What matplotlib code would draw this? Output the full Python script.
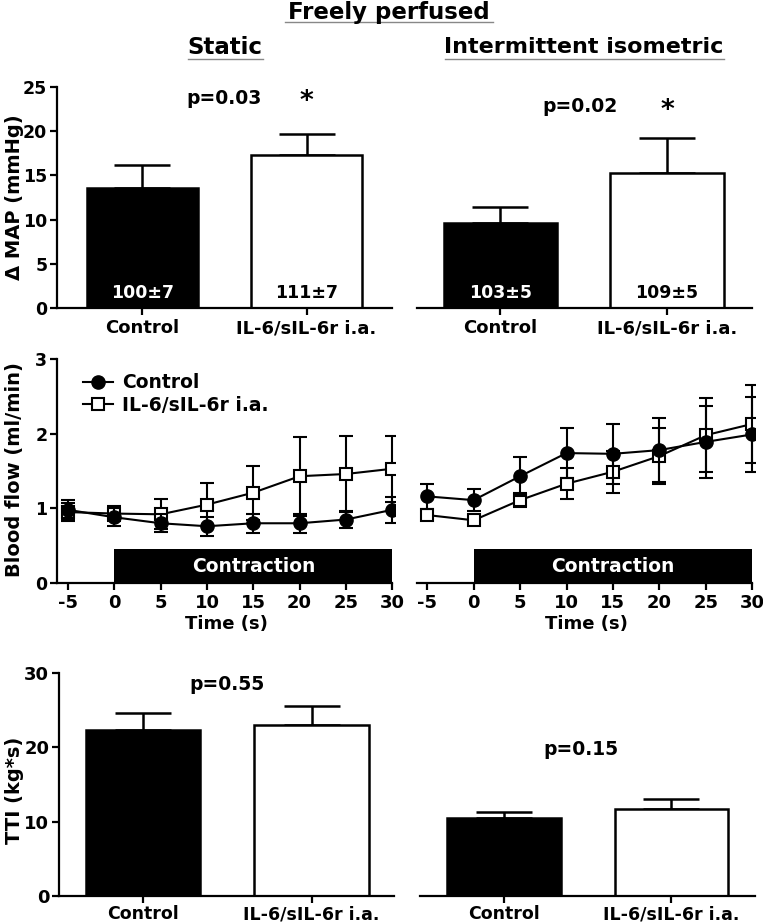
import matplotlib
matplotlib.use("Agg")
import matplotlib.pyplot as plt
from matplotlib.lines import Line2D
import numpy as np

plt.rcParams['font.family'] = ['DejaVu Sans']
plt.rcParams['font.weight'] = 'bold'
plt.rcParams['axes.linewidth'] = 1.6

# ---------------- data ----------------
groups = ["Control", "IL-6/sIL-6r i.a."]

map_static = [13.6, 17.3]
map_static_err = [2.6, 2.4]
map_interm = [9.6, 15.3]
map_interm_err = [1.8, 3.9]
map_static_labels = ["100\u00b17", "111\u00b17"]
map_interm_labels = ["103\u00b15", "109\u00b15"]

time_s = [-5, 0, 5, 10, 15, 20, 25, 30]
flow_static_ctrl = [0.98, 0.88, 0.80, 0.76, 0.80, 0.80, 0.85, 0.98]
flow_static_ctrl_err = [0.13, 0.12, 0.12, 0.13, 0.13, 0.13, 0.12, 0.17]
flow_static_il = [0.95, 0.93, 0.92, 1.05, 1.21, 1.43, 1.46, 1.53]
flow_static_il_err = [0.12, 0.10, 0.20, 0.29, 0.36, 0.53, 0.51, 0.44]
flow_interm_ctrl = [1.16, 1.11, 1.43, 1.74, 1.73, 1.78, 1.89, 1.99]
flow_interm_ctrl_err = [0.17, 0.15, 0.26, 0.33, 0.40, 0.43, 0.48, 0.50]
flow_interm_il = [0.91, 0.84, 1.11, 1.33, 1.49, 1.70, 1.98, 2.13]
flow_interm_il_err = [0.06, 0.06, 0.09, 0.21, 0.28, 0.38, 0.50, 0.52]

tti_static = [22.3, 23.0]
tti_static_err = [2.3, 2.6]
tti_interm = [10.5, 11.7]
tti_interm_err = [0.8, 1.3]

W, H = 763, 924
fig = plt.figure(figsize=(W / 100, H / 100), dpi=100)

TICK_FS = 13
YTICK_FS = 12.5


def ax_px(x0, x1, ytop, ybot):
    return fig.add_axes([x0 / W, 1 - ybot / H, (x1 - x0) / W, (ybot - ytop) / H])


def bar_panel(ax, vals, errs, xlim, ylim, yticks, show_y, xfs=TICK_FS, yfs=YTICK_FS, xpad=3):
    x = np.arange(len(vals))
    colors = ['black', 'white']
    ax.bar(x, vals, width=0.68, color=colors, edgecolor='black', linewidth=1.8, zorder=2)
    ax.errorbar(x, vals, yerr=[[0] * len(vals), errs], fmt='none', ecolor='black',
                elinewidth=1.8, capsize=20, capthick=1.8, zorder=1)
    ax.set_xlim(*xlim)
    ax.set_ylim(*ylim)
    ax.set_xticks(x)
    ax.set_xticklabels(groups, fontsize=xfs, fontweight='bold')
    ax.spines['top'].set_visible(False)
    ax.spines['right'].set_visible(False)
    ax.tick_params(axis='x', direction='out', length=5, width=1.6, pad=xpad)
    if show_y:
        ax.set_yticks(yticks)
        ax.set_yticklabels([str(t) for t in yticks], fontsize=yfs, fontweight='bold')
        ax.tick_params(axis='y', direction='out', length=5, width=1.6, pad=2)
    else:
        ax.spines['left'].set_visible(False)
        ax.set_yticks([])


def flow_panel(ax, ctrl, ctrl_err, il, il_err, xlim, show_y):
    ax.errorbar(time_s, il, yerr=il_err, fmt='-s', color='black', mfc='white', mec='black',
                ms=9, mew=1.5, lw=1.5, elinewidth=1.5, capsize=5, capthick=1.5, zorder=3)
    ax.errorbar(time_s, ctrl, yerr=ctrl_err, fmt='-o', color='black', mfc='black', mec='black',
                ms=9.5, lw=1.5, elinewidth=1.5, capsize=5, capthick=1.5, zorder=4)
    ax.bar(15, 0.45, width=30, bottom=0, color='black', zorder=2)
    ax.text(15, 0.22, "Contraction", color='white', ha='center', va='center',
            fontsize=13.5, fontweight='bold', zorder=5)
    ax.set_xlim(*xlim)
    ax.set_ylim(0, 3)
    ax.set_xticks(time_s)
    ax.set_xticklabels([str(t) for t in time_s], fontsize=TICK_FS, fontweight='bold')
    ax.set_xlabel("Time (s)", fontsize=13, fontweight='bold', labelpad=2)
    ax.spines['top'].set_visible(False)
    ax.spines['right'].set_visible(False)
    ax.spines['bottom'].set_bounds(xlim[0], 30)
    ax.tick_params(axis='x', direction='out', length=5, width=1.6, pad=3)
    if show_y:
        ax.set_yticks([0, 1, 2, 3])
        ax.set_yticklabels(['0', '1', '2', '3'], fontsize=YTICK_FS, fontweight='bold')
        ax.tick_params(axis='y', direction='out', length=5, width=1.6, pad=2)
    else:
        ax.spines['left'].set_visible(False)
        ax.set_yticks([])


# ---- top row: delta MAP
ax1 = ax_px(57, 392, 87, 308)
bar_panel(ax1, map_static, map_static_err, (-0.52, 1.52), (0, 25), [0, 5, 10, 15, 20, 25], True)
ax2 = ax_px(417, 752, 87, 308)
bar_panel(ax2, map_interm, map_interm_err, (-0.5, 1.51), (0, 25), [], False)
for i, lab in enumerate(map_static_labels):
    ax1.text(i, 1.7, lab, ha='center', va='center', fontsize=12.5, fontweight='bold',
             color='white' if i == 0 else 'black')
for i, lab in enumerate(map_interm_labels):
    ax2.text(i, 1.7, lab, ha='center', va='center', fontsize=12.5, fontweight='bold',
             color='white' if i == 0 else 'black')
ax1.text(0.5, 23.7, "p=0.03", ha='center', va='center', fontsize=13.5, fontweight='bold')
ax1.text(1.0, 23.3, "*", ha='center', va='center', fontsize=19, fontweight='bold')
ax2.text(0.48, 22.8, "p=0.02", ha='center', va='center', fontsize=13.5, fontweight='bold')
ax2.text(1.0, 22.3, "*", ha='center', va='center', fontsize=19, fontweight='bold')

# ---- middle row: blood flow
ax3 = ax_px(57, 395, 359, 583)
flow_panel(ax3, flow_static_ctrl, flow_static_ctrl_err, flow_static_il, flow_static_il_err,
           (-6.2, 30.3), True)
ax4 = ax_px(417, 755, 359, 583)
flow_panel(ax4, flow_interm_ctrl, flow_interm_ctrl_err, flow_interm_il, flow_interm_il_err,
           (-6.1, 30.3), False)
handles = [
    Line2D([], [], color='black', marker='o', ms=9.5, mfc='black', lw=1.5),
    Line2D([], [], color='black', marker='s', ms=9, mfc='white', mew=1.5, lw=1.5),
]
ax3.legend(handles, groups, loc='upper left', bbox_to_anchor=(0.055, 0.97), frameon=False,
           fontsize=13.5, handlelength=1.6, handletextpad=0.5, labelspacing=0.2, borderaxespad=0)

# ---- bottom row: TTI
ax5 = ax_px(59, 394, 673, 896)
bar_panel(ax5, tti_static, tti_static_err, (-0.5, 1.49), (0, 30), [0, 10, 20, 30], True,
          xfs=12.5, yfs=13, xpad=1.5)
ax6 = ax_px(420, 755, 673, 896)
bar_panel(ax6, tti_interm, tti_interm_err, (-0.503, 1.5), (0, 30), [], False, xfs=12.5, xpad=1.5)
ax5.text(0.5, 28.5, "p=0.55", ha='center', va='center', fontsize=13.5, fontweight='bold')
ax6.text(0.46, 19.7, "p=0.15", ha='center', va='center', fontsize=13.5, fontweight='bold')

# ---- y labels
fig.text(15 / W, 1 - 197 / H, "\u0394 MAP (mmHg)", rotation=90, ha='center', va='center',
         fontsize=14, fontweight='bold')
fig.text(15 / W, 1 - 470 / H, "Blood flow (ml/min)", rotation=90, ha='center', va='center',
         fontsize=14, fontweight='bold')
fig.text(15 / W, 1 - 790 / H, "TTI (kg*s)", rotation=90, ha='center', va='center',
         fontsize=14, fontweight='bold')

# ---- titles with underlines
fig.text(389 / W, 1 - 12 / H, "Freely perfused", ha='center', va='center', fontsize=16.5,
         fontweight='bold')
fig.add_artist(Line2D([285 / W, 493 / W], [1 - 22 / H, 1 - 22 / H], color='#888888', lw=1))
fig.text(225 / W, 1 - 47 / H, "Static", ha='center', va='center', fontsize=16.5, fontweight='bold')
fig.add_artist(Line2D([188 / W, 263 / W], [1 - 59 / H, 1 - 59 / H], color='#888888', lw=1))
fig.text(584 / W, 1 - 47 / H, "Intermittent isometric", ha='center', va='center', fontsize=16,
         fontweight='bold')
fig.add_artist(Line2D([445 / W, 724 / W], [1 - 59 / H, 1 - 59 / H], color='#888888', lw=1))

fig.savefig("out.png", dpi=100)
